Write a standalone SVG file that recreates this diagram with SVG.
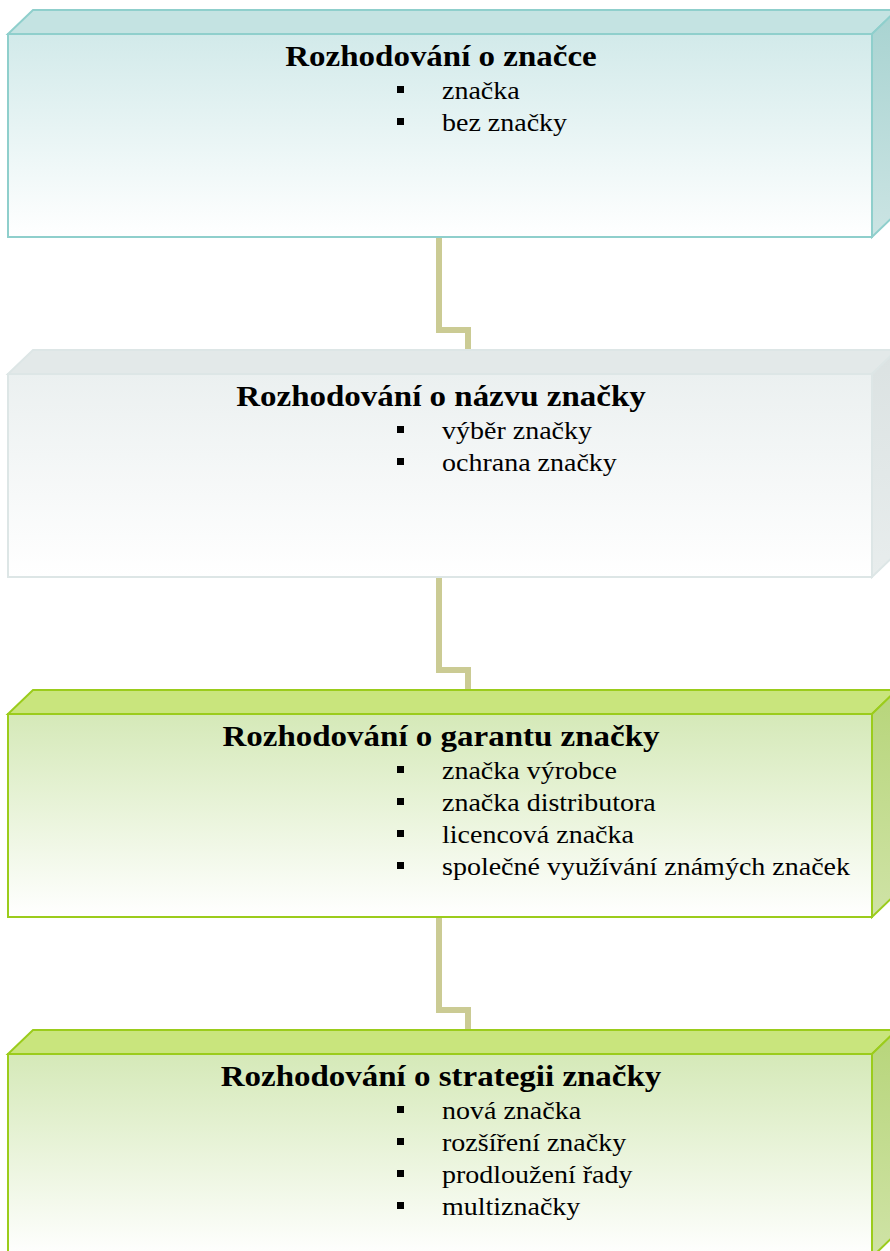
<svg xmlns="http://www.w3.org/2000/svg" width="890" height="1251" viewBox="0 0 890 1251">
<defs>
<linearGradient id="fTeal" x1="0" y1="0" x2="0" y2="1"><stop offset="0" stop-color="#d2eaea"/><stop offset="1" stop-color="#ffffff"/></linearGradient>
<linearGradient id="sTeal" x1="0" y1="0" x2="0" y2="1"><stop offset="0" stop-color="#a8d3d1"/><stop offset="1" stop-color="#cbe4e3"/></linearGradient>
<linearGradient id="fGray" x1="0" y1="0" x2="0" y2="1"><stop offset="0" stop-color="#ebf0f0"/><stop offset="1" stop-color="#ffffff"/></linearGradient>
<linearGradient id="sGray" x1="0" y1="0" x2="0" y2="1"><stop offset="0" stop-color="#dbe2e2"/><stop offset="1" stop-color="#e8eded"/></linearGradient>
<linearGradient id="fGreen" x1="0" y1="0" x2="0" y2="1"><stop offset="0" stop-color="#d5e9b8"/><stop offset="1" stop-color="#ffffff"/></linearGradient>
<linearGradient id="sGreen" x1="0" y1="0" x2="0" y2="1"><stop offset="0" stop-color="#b7d57a"/><stop offset="1" stop-color="#cfe3a6"/></linearGradient>
</defs>
<style>
.title{font-family:"Liberation Serif",serif;font-weight:bold;font-size:30px;fill:#000;text-anchor:middle}
.item{font-family:"Liberation Serif",serif;font-size:25px;fill:#000}
.conn{fill:none;stroke:#cbcb94;stroke-width:6}
.teal{stroke:#8fcfcc;stroke-width:2}
.gray{stroke:#dde6e6;stroke-width:2}
.green{stroke:#9bcc1c;stroke-width:2}
</style>
<g id="connectors">
<polyline class="conn" points="439,237 439,330 468,330 468,350"/>
<polyline class="conn" points="439,577 439,670 468,670 468,690"/>
<polyline class="conn" points="439,917 439,1010 468,1010 468,1030"/>
</g>
<g id="node1">
<polygon class="teal" fill="#c4e3e2" points="8,34 33,10 897,10 872,34"/>
<polygon class="teal" fill="url(#sTeal)" points="872,34 897,10 897,213 872,237"/>
<rect class="teal" fill="url(#fTeal)" x="8" y="34" width="864" height="203"/>
<text class="title" transform="translate(441,66) scale(1.1,1)">Rozhodování o značce</text>
<rect x="397" y="86" width="7" height="7"/><text class="item" transform="translate(442,99) scale(1.12,1)">značka</text>
<rect x="397" y="118" width="7" height="7"/><text class="item" transform="translate(442,131) scale(1.12,1)">bez značky</text>
</g>
<g id="node2">
<polygon class="gray" fill="#e3e9e9" points="8,374 33,350 897,350 872,374"/>
<polygon class="gray" fill="url(#sGray)" points="872,374 897,350 897,553 872,577"/>
<rect class="gray" fill="url(#fGray)" x="8" y="374" width="864" height="203"/>
<text class="title" transform="translate(441,406) scale(1.1,1)">Rozhodování o názvu značky</text>
<rect x="397" y="426" width="7" height="7"/><text class="item" transform="translate(442,439) scale(1.12,1)">výběr značky</text>
<rect x="397" y="458" width="7" height="7"/><text class="item" transform="translate(442,471) scale(1.12,1)">ochrana značky</text>
</g>
<g id="node3">
<polygon class="green" fill="#c9e57d" points="8,714 33,690 897,690 872,714"/>
<polygon class="green" fill="url(#sGreen)" points="872,714 897,690 897,893 872,917"/>
<rect class="green" fill="url(#fGreen)" x="8" y="714" width="864" height="203"/>
<text class="title" transform="translate(441,746) scale(1.1,1)">Rozhodování o garantu značky</text>
<rect x="397" y="766" width="7" height="7"/><text class="item" transform="translate(442,779) scale(1.12,1)">značka výrobce</text>
<rect x="397" y="798" width="7" height="7"/><text class="item" transform="translate(442,811) scale(1.12,1)">značka distributora</text>
<rect x="397" y="830" width="7" height="7"/><text class="item" transform="translate(442,843) scale(1.12,1)">licencová značka</text>
<rect x="397" y="862" width="7" height="7"/><text class="item" transform="translate(442,875) scale(1.12,1)">společné využívání známých značek</text>
</g>
<g id="node4">
<polygon class="green" fill="#c9e57d" points="8,1054 33,1030 897,1030 872,1054"/>
<polygon class="green" fill="url(#sGreen)" points="872,1054 897,1030 897,1233 872,1257"/>
<rect class="green" fill="url(#fGreen)" x="8" y="1054" width="864" height="203"/>
<text class="title" transform="translate(441,1086) scale(1.1,1)">Rozhodování o strategii značky</text>
<rect x="397" y="1106" width="7" height="7"/><text class="item" transform="translate(442,1119) scale(1.12,1)">nová značka</text>
<rect x="397" y="1138" width="7" height="7"/><text class="item" transform="translate(442,1151) scale(1.12,1)">rozšíření značky</text>
<rect x="397" y="1170" width="7" height="7"/><text class="item" transform="translate(442,1183) scale(1.12,1)">prodloužení řady</text>
<rect x="397" y="1202" width="7" height="7"/><text class="item" transform="translate(442,1215) scale(1.12,1)">multiznačky</text>
</g>
</svg>
